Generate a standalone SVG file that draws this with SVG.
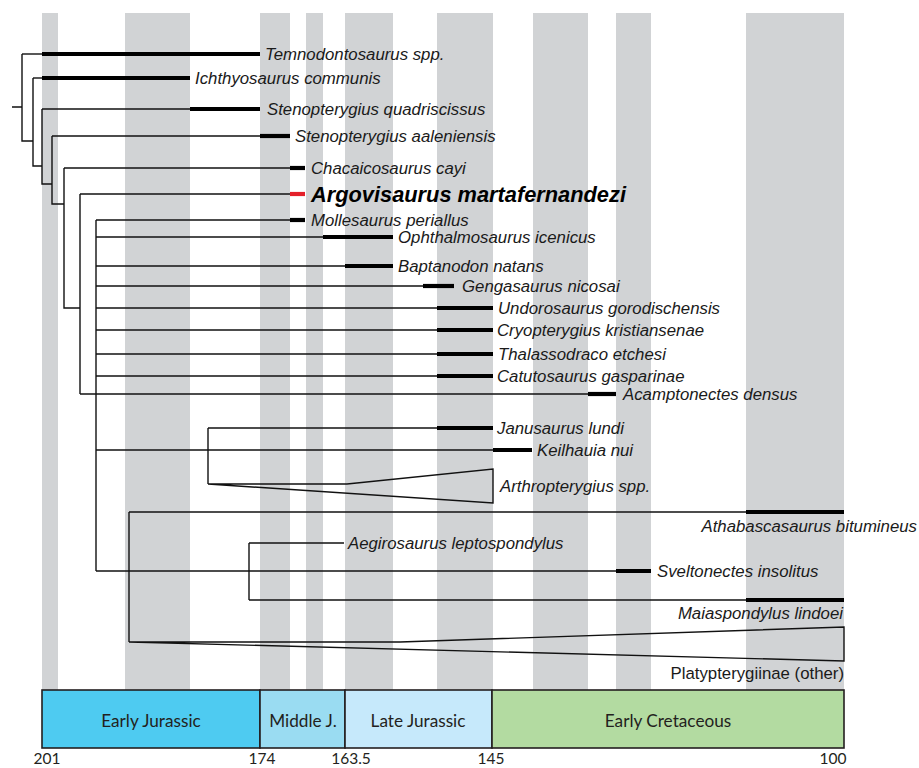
<svg xmlns="http://www.w3.org/2000/svg" width="919" height="768" viewBox="0 0 919 768">
<style>
.band{fill:#d1d3d5}
.br{fill:none;stroke:#111;stroke-width:1.4}
.bar{stroke:#000;stroke-width:4.2}
.red{stroke:#e4202a;stroke-width:4.2}
.tx{font-family:"Liberation Sans",Arial,sans-serif;font-size:16.8px;font-style:italic;fill:#1a1a1a}
.up{font-style:normal}
.big{font-size:21.8px;font-weight:bold;fill:#000}
.per{stroke:#231f20;stroke-width:1.6}
.pt{font-family:Lato,"Noto Sans",sans-serif;font-size:17.2px;fill:#231f20;text-anchor:middle}
.num{font-family:Lato,"Noto Sans",sans-serif;font-size:15.5px;fill:#231f20;text-anchor:middle}
</style>
<rect width="919" height="768" fill="#fff"/>
<g id="bands">
<rect class="band" x="42" y="13" width="16" height="677"/>
<rect class="band" x="125" y="13" width="65" height="677"/>
<rect class="band" x="260" y="13" width="30" height="677"/>
<rect class="band" x="306" y="13" width="17" height="677"/>
<rect class="band" x="345" y="13" width="48" height="677"/>
<rect class="band" x="437" y="13" width="56" height="677"/>
<rect class="band" x="533" y="13" width="55" height="677"/>
<rect class="band" x="616" y="13" width="35" height="677"/>
<rect class="band" x="746" y="13" width="98" height="677"/>
</g>
<g id="timescale">
<rect class="per" x="42" y="690" width="218" height="58" fill="#4ecbf1"/>
<rect class="per" x="260" y="690" width="85" height="58" fill="#9adcf2"/>
<rect class="per" x="345" y="690" width="147" height="58" fill="#c6e9fb"/>
<rect class="per" x="492" y="690" width="352" height="58" fill="#b3dba1"/>
<text class="pt" x="151" y="727">Early Jurassic</text>
<text class="pt" x="303" y="727">Middle J.</text>
<text class="pt" x="418" y="727">Late Jurassic</text>
<text class="pt" x="668" y="727">Early Cretaceous</text>
<text class="num" x="47" y="764">201</text>
<text class="num" x="262" y="764">174</text>
<text class="num" x="351" y="764">163.5</text>
<text class="num" x="491" y="764">145</text>
<text class="num" x="833" y="764">100</text>
</g>
<g id="connectors">
<path class="br" d="M12 107H22M22 54V141H33M33 78V166H42M42 109V184H52M52 136V204H64M64 168V308H80M80 194V394M96 220V571M208 428V484M129 512V642M249 543V600"/>
</g>
<g id="temnodontosaurus"><path class="br" d="M22 54H42"/><path class="bar" d="M42 54H260"/><text class="tx" x="265" y="60">Temnodontosaurus spp.</text></g>
<g id="ichthyosaurus"><path class="br" d="M33 78H42"/><path class="bar" d="M42 78H190"/><text class="tx" x="195" y="84">Ichthyosaurus communis</text></g>
<g id="stenopterygius-q"><path class="br" d="M42 109H190"/><path class="bar" d="M190 109H260"/><text class="tx" x="267" y="115">Stenopterygius quadriscissus</text></g>
<g id="stenopterygius-a"><path class="br" d="M52 136H260"/><path class="bar" d="M260 136H290"/><text class="tx" x="295" y="142">Stenopterygius aaleniensis</text></g>
<g id="chacaicosaurus"><path class="br" d="M64 168H290"/><path class="bar" d="M290 168H305"/><text class="tx" x="311" y="174">Chacaicosaurus cayi</text></g>
<g id="argovisaurus"><path class="br" d="M80 194H290"/><path class="red" d="M290 194H305"/><text class="tx big" x="311" y="201.5">Argovisaurus martafernandezi</text></g>
<g id="mollesaurus"><path class="br" d="M96 220H290"/><path class="bar" d="M290 220H305"/><text class="tx" x="311" y="226">Mollesaurus periallus</text></g>
<g id="ophthalmosaurus"><path class="br" d="M96 237H323"/><path class="bar" d="M323 237H393"/><text class="tx" x="398" y="243">Ophthalmosaurus icenicus</text></g>
<g id="baptanodon"><path class="br" d="M96 266H345"/><path class="bar" d="M345 266H393"/><text class="tx" x="398" y="272">Baptanodon natans</text></g>
<g id="gengasaurus"><path class="br" d="M96 286H423"/><path class="bar" d="M423 286H454"/><text class="tx" x="462" y="292">Gengasaurus nicosai</text></g>
<g id="undorosaurus"><path class="br" d="M96 308H437"/><path class="bar" d="M437 308H493"/><text class="tx" x="498" y="314">Undorosaurus gorodischensis</text></g>
<g id="cryopterygius"><path class="br" d="M96 330H437"/><path class="bar" d="M437 330H493"/><text class="tx" x="497" y="336">Cryopterygius kristiansenae</text></g>
<g id="thalassodraco"><path class="br" d="M96 354H437"/><path class="bar" d="M437 354H493"/><text class="tx" x="498" y="360">Thalassodraco etchesi</text></g>
<g id="catutosaurus"><path class="br" d="M96 376H437"/><path class="bar" d="M437 376H493"/><text class="tx" x="497" y="382">Catutosaurus gasparinae</text></g>
<g id="acamptonectes"><path class="br" d="M80 394H588"/><path class="bar" d="M588 394H616"/><text class="tx" x="623" y="400">Acamptonectes densus</text></g>
<g id="janusaurus"><path class="br" d="M208 428H437"/><path class="bar" d="M437 428H493"/><text class="tx" x="497" y="434">Janusaurus lundi</text></g>
<g id="keilhauia"><path class="br" d="M96 450H493"/><path class="bar" d="M493 450H532"/><text class="tx" x="537" y="456">Keilhauia nui</text></g>
<g id="arthropterygius"><path class="br" d="M208 484H347L493 469V503Z"/><text class="tx" x="500" y="492">Arthropterygius spp.</text></g>
<g id="athabascasaurus"><path class="br" d="M129 512H746"/><path class="bar" d="M746 512H844"/><text class="tx" x="917" y="532" text-anchor="end">Athabascasaurus bitumineus</text></g>
<g id="aegirosaurus"><path class="br" d="M249 543H344"/><text class="tx" x="348" y="549">Aegirosaurus leptospondylus</text></g>
<g id="sveltonectes"><path class="br" d="M96 571H616"/><path class="bar" d="M616 571H651"/><text class="tx" x="657" y="577">Sveltonectes insolitus</text></g>
<g id="maiaspondylus"><path class="br" d="M249 600H746"/><path class="bar" d="M746 600H844"/><text class="tx" x="843" y="619" text-anchor="end">Maiaspondylus lindoei</text></g>
<g id="platypterygiinae"><path class="br" d="M129 642H400L844 627V661Z"/><text class="tx up" x="844" y="679" text-anchor="end">Platypterygiinae (other)</text></g>
</svg>
